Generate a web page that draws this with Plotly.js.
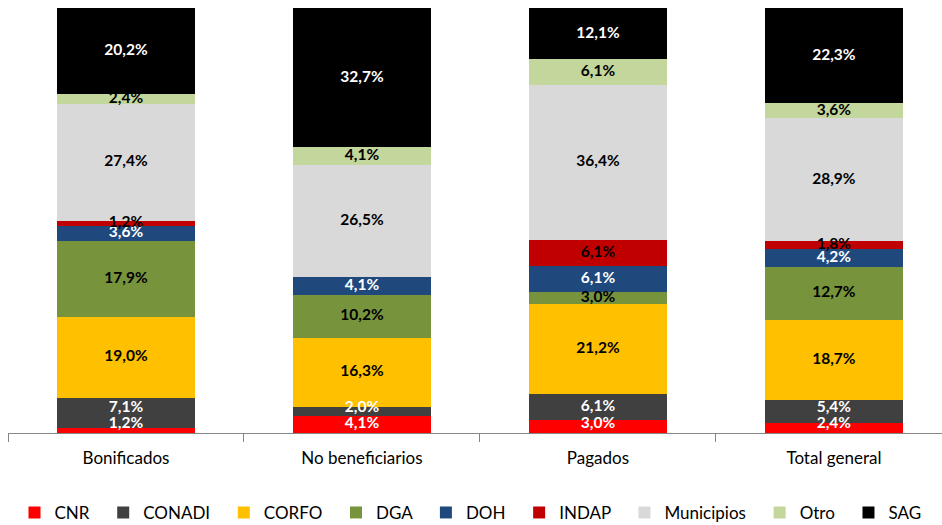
<!DOCTYPE html>
<html>
<head>
<meta charset="utf-8">
<script src="https://cdn.plot.ly/plotly-3.0.1.min.js"></script>
<style>html,body{margin:0;padding:0;background:#fff;}#chart{width:942px;height:525px;}</style>
</head>
<body>
<div id="chart"></div>
<script>
const categories = ["Bonificados", "No beneficiarios", "Pagados", "Total general"];
const seriesNames = ["CNR", "CONADI", "CORFO", "DGA", "DOH", "INDAP", "Municipios", "Otro", "SAG"];
const CNR        = [1.2, 4.1, 3.0, 2.4];
const CONADI     = [7.1, 2.0, 6.1, 5.4];
const CORFO      = [19.0, 16.3, 21.2, 18.7];
const DGA        = [17.9, 10.2, 3.0, 12.7];
const DOH        = [3.6, 4.1, 6.1, 4.2];
const INDAP      = [1.2, 0, 6.1, 1.8];
const Municipios = [27.4, 26.5, 36.4, 28.9];
const Otro       = [2.4, 4.1, 6.1, 3.6];
const SAG        = [20.2, 32.7, 12.1, 22.3];

const seriesValues = [CNR, CONADI, CORFO, DGA, DOH, INDAP, Municipios, Otro, SAG];
const colors = ["#FF0000", "#404040", "#FFC000", "#77933C", "#1F497D", "#C00000", "#D9D9D9", "#C3D69B", "#000000"];
const textColors = ["#FFFFFF", "#FFFFFF", "#000000", "#000000", "#FFFFFF", "#000000", "#000000", "#000000", "#FFFFFF"];
const pad = "\u00a0\u00a0";
const FONT = 'Lato, "Open Sans", sans-serif';

const fmt = v => v ? v.toFixed(1).replace('.', ',') + '%' : '';

const barTraces = seriesNames.map((name, i) => ({
  type: 'bar',
  name: name + pad,
  x: categories,
  y: seriesValues[i],
  marker: {color: colors[i], line: {width: 0}},
  width: 0.585,
  hoverinfo: 'name+y'
}));

// label positions: segment midpoints, bottom labels kept inside the plot area
const minLabel = [2.1, 5.86];
const cum = categories.map(() => 0);
const labelTraces = seriesNames.map((name, i) => {
  const ys = categories.map((c, j) => {
    let mid = cum[j] + seriesValues[i][j] / 2;
    cum[j] += seriesValues[i][j];
    if (i < minLabel.length) mid = Math.max(mid, minLabel[i]);
    return mid;
  });
  return {
    type: 'scatter',
    mode: 'text',
    x: categories,
    y: ys,
    text: seriesValues[i].map(fmt),
    textposition: 'middle center',
    textfont: {family: FONT, size: 15.5, color: textColors[i], weight: 'bold'},
    showlegend: false,
    hoverinfo: 'skip',
    cliponaxis: false
  };
});

const layout = {
  width: 942, height: 525,
  margin: {l: 8, r: 0, t: 8, b: 92, autoexpand: false},
  barmode: 'stack',
  paper_bgcolor: '#fff', plot_bgcolor: '#fff',
  font: {family: FONT, size: 17, color: '#000'},
  xaxis: {
    type: 'category',
    range: [-0.5, 3.458],
    showline: true, linecolor: '#868686', linewidth: 1,
    ticks: 'outside', tickson: 'boundaries', ticklen: 8, tickcolor: '#868686',
    ticklabelstandoff: 10,
    showgrid: false, zeroline: false,
    tickfont: {size: 17}
  },
  yaxis: {range: [0, 100.1], visible: false, showgrid: false, zeroline: false, fixedrange: true},
  showlegend: true,
  legend: {
    orientation: 'h', x: 0.5, xanchor: 'center', y: -0.188, yanchor: 'middle',
    font: {size: 17}, traceorder: 'normal', itemclick: false
  }
};

Plotly.newPlot('chart', barTraces.concat(labelTraces), layout, {displayModeBar: false, staticPlot: true});
</script>
</body>
</html>
